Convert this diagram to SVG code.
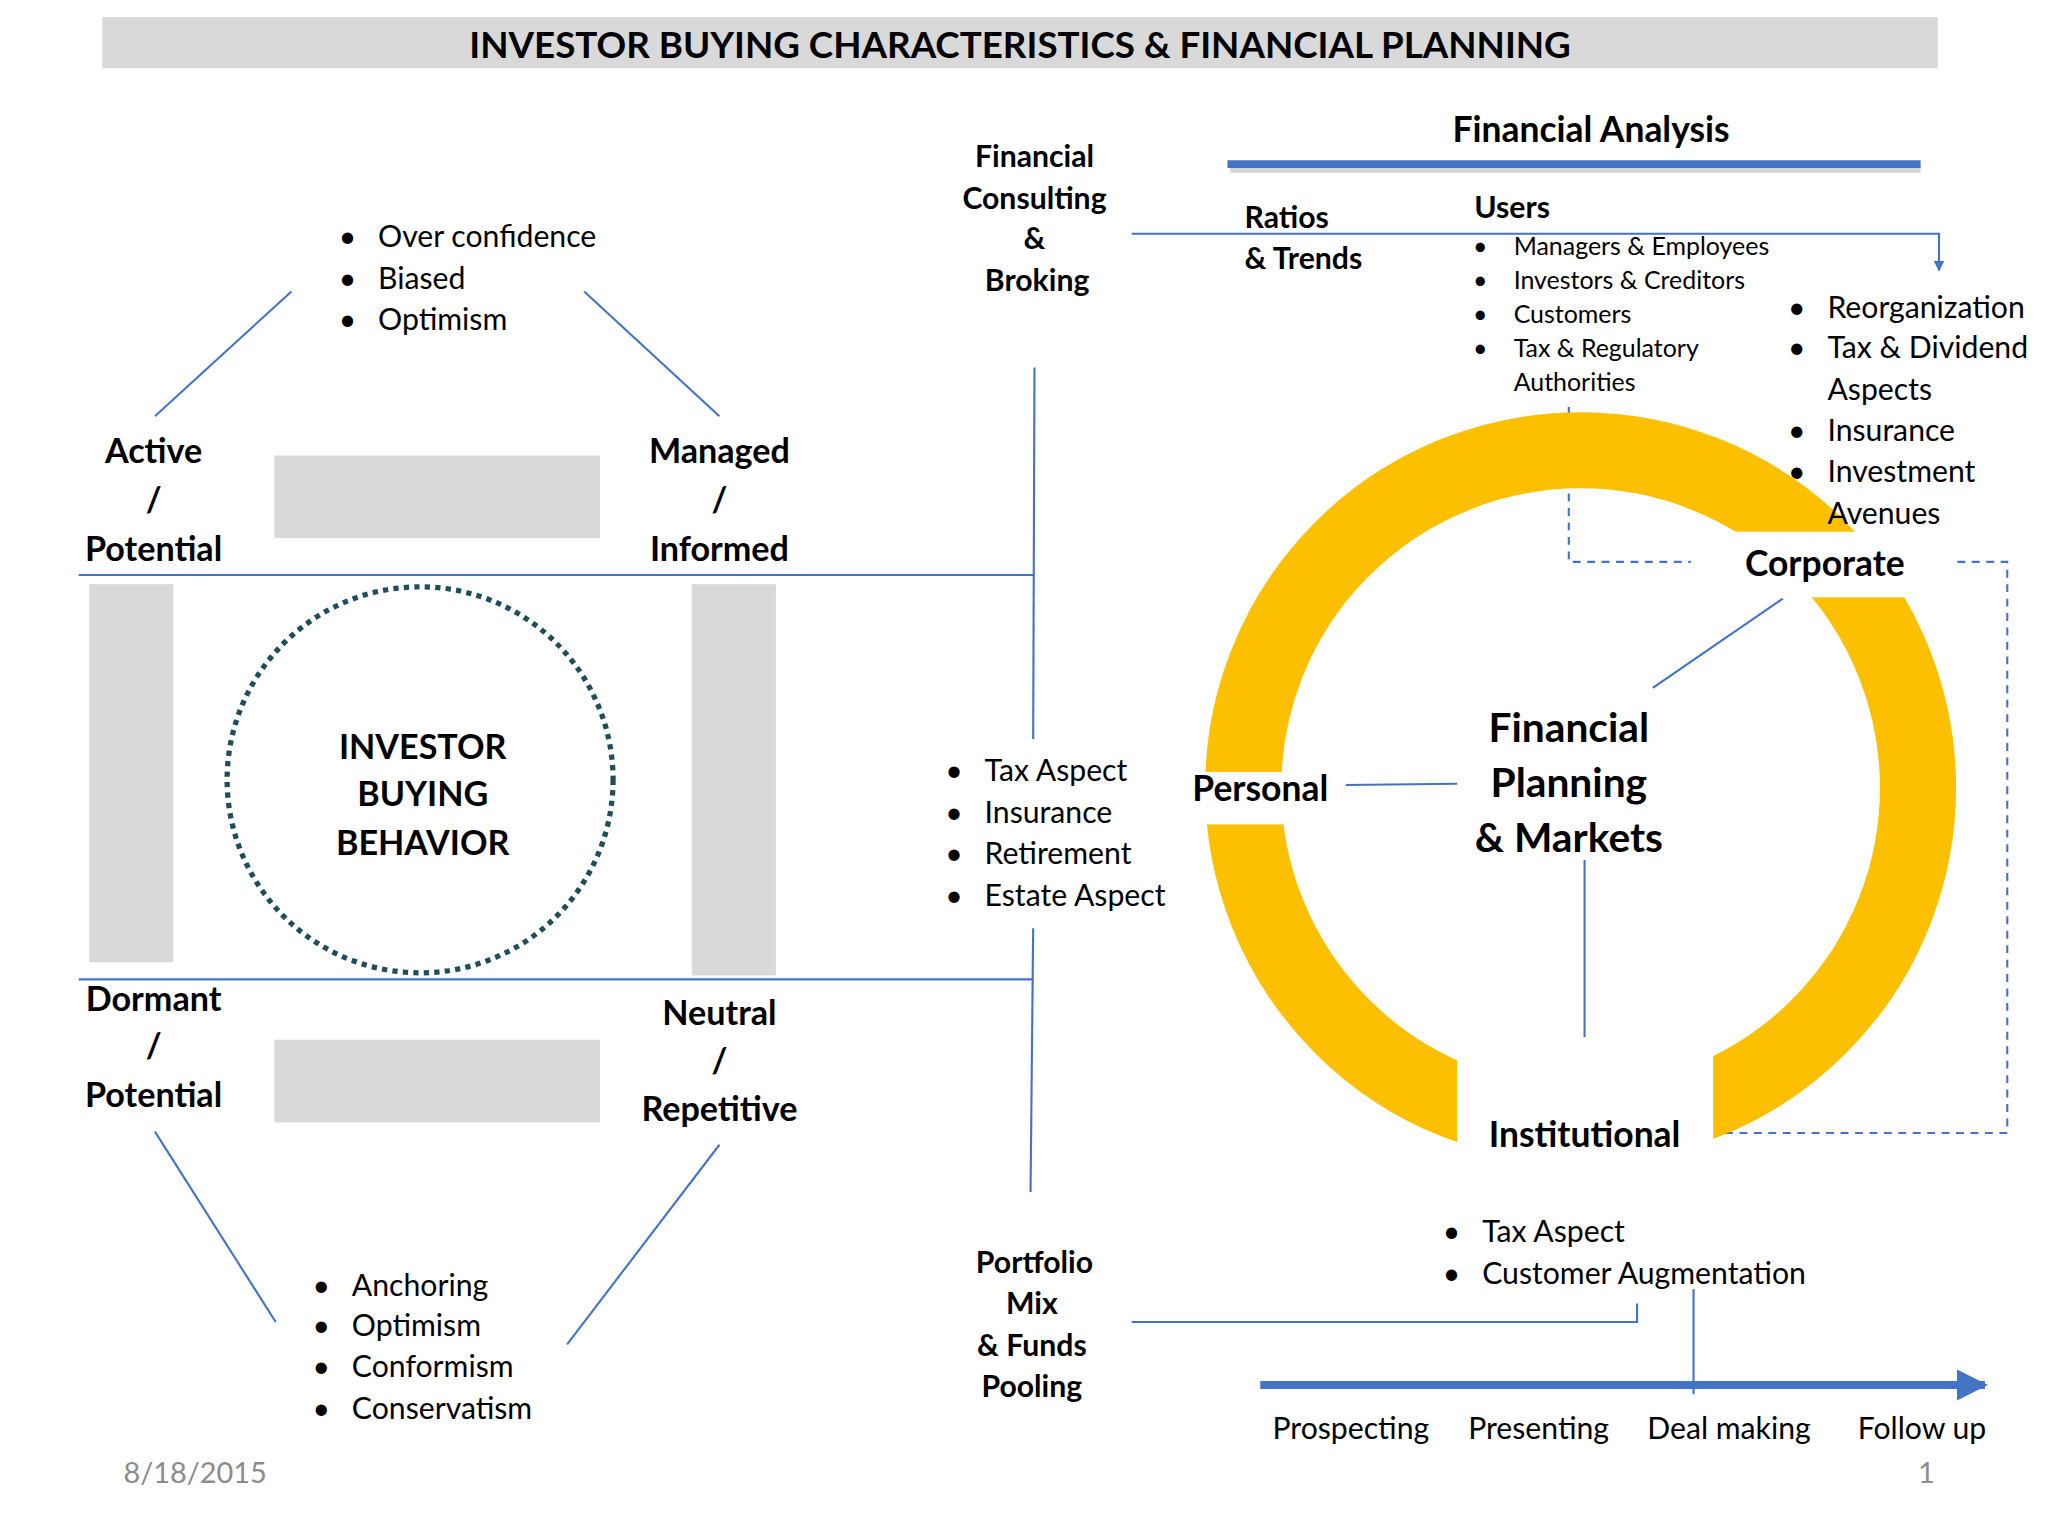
<svg xmlns="http://www.w3.org/2000/svg" width="2048" height="1536" viewBox="0 0 2048 1536">
<defs>
<style>
text{font-family:Lato,"Open Sans","Liberation Sans",sans-serif;fill:#000}
.b{font-weight:bold}
.c{text-anchor:middle}
.ln{stroke:#4472c4;stroke-width:1.6;fill:none}
.ds{stroke:#4472c4;stroke-width:1.6;fill:none;stroke-dasharray:6 5}
.g{fill:#d9d9d9}
</style>
<marker id="ah" viewBox="0 0 10 10" refX="9" refY="5" markerWidth="8" markerHeight="8" orient="auto" markerUnits="userSpaceOnUse"><path d="M0,0L10,5L0,10z" fill="#4472c4"/></marker>
<marker id="ah2" viewBox="0 0 10 10" refX="9" refY="5" markerWidth="4" markerHeight="4" orient="auto"><path d="M0,0L10,5L0,10z" fill="#4472c4"/></marker>
</defs>
<rect width="2048" height="1536" fill="#fff"/>
<g transform="scale(1.3128)">
<g id="title"><rect x="78" y="13" width="1398" height="39" class="g"/>
<text x="777" y="44" class="b c" font-size="28">INVESTOR BUYING CHARACTERISTICS &amp; FINANCIAL PLANNING</text></g>

<g id="connectors">
<line x1="222" y1="222" x2="118" y2="317" class="ln"/>
<line x1="445" y1="222" x2="548" y2="317" class="ln"/>
<line x1="60" y1="438" x2="787" y2="438" class="ln"/>
<line x1="60" y1="746" x2="787" y2="746" class="ln"/>
<line x1="118" y1="862" x2="210" y2="1007" class="ln"/>
<line x1="548" y1="872" x2="432" y2="1024" class="ln"/>
<line x1="788" y1="280" x2="787" y2="563" class="ln"/>
<line x1="787" y1="707" x2="785" y2="908" class="ln"/>
<polyline points="862,1007 1247,1007 1247,993" class="ln"/>
<line x1="1290" y1="982" x2="1290" y2="1062" class="ln"/>
<line x1="960" y1="1055" x2="1512" y2="1055" stroke="#4472c4" stroke-width="6" marker-end="url(#ah2)"/>
<polyline points="862,178 1477,178 1477,206" class="ln" marker-end="url(#ah)"/>
<line x1="937" y1="129" x2="1463" y2="129" stroke="#bbb" stroke-width="5" opacity="0.6"/>
<line x1="935" y1="125" x2="1463" y2="125" stroke="#4472c4" stroke-width="6"/>
<line x1="1025" y1="598" x2="1110" y2="597" class="ln"/>
<line x1="1358" y1="456" x2="1259" y2="524" class="ln"/>
<line x1="1207" y1="655" x2="1207" y2="810" class="ln"/>
<polyline points="1195,310 1195,428 1288,428" class="ds"/>
<polyline points="1491,428 1529,428 1529,863 1305,863" class="ds"/>
</g>

<g id="left">
<g font-size="23"><text x="258" y="188">•</text><text x="288" y="188">Over confidence</text>
<text x="258" y="220">•</text><text x="288" y="220">Biased</text>
<text x="258" y="251">•</text><text x="288" y="251">Optimism</text></g>
<g class="b c" font-size="26"><text x="117" y="353">Active</text><text x="117" y="390">/</text><text x="117" y="427">Potential</text>
<text x="548" y="353">Managed</text><text x="548" y="390">/</text><text x="548" y="427">Informed</text>
<text x="117" y="770">Dormant</text><text x="117" y="806">/</text><text x="117" y="843">Potential</text>
<text x="548" y="781">Neutral</text><text x="548" y="817">/</text><text x="548" y="854">Repetitive</text></g>
<rect x="209" y="347" width="248" height="63" class="g"/>
<rect x="209" y="792" width="248" height="63" class="g"/>
<rect x="68" y="445" width="64" height="288" class="g"/>
<rect x="527" y="445" width="64" height="298" class="g"/>
<circle cx="320" cy="594" r="147" fill="none" stroke="#1f4e5a" stroke-width="4" stroke-dasharray="4 4"/>
<g class="b c" font-size="26"><text x="322" y="578">INVESTOR</text><text x="322" y="614">BUYING</text><text x="322" y="651">BEHAVIOR</text></g>
<g font-size="23"><text x="238" y="987">•</text><text x="268" y="987">Anchoring</text>
<text x="238" y="1018">•</text><text x="268" y="1018">Optimism</text>
<text x="238" y="1049">•</text><text x="268" y="1049">Conformism</text>
<text x="238" y="1081">•</text><text x="268" y="1081">Conservatism</text></g>
</g>

<g id="middle">
<g class="b c" font-size="23"><text x="788" y="127">Financial</text><text x="788" y="159">Consulting</text><text x="788" y="190">&amp;</text><text x="790" y="222">Broking</text>
<text x="788" y="970">Portfolio</text><text x="786" y="1001">Mix</text><text x="786" y="1033">&amp; Funds</text><text x="786" y="1064">Pooling</text></g>
<g font-size="23"><text x="720" y="595">•</text><text x="750" y="595">Tax Aspect</text>
<text x="720" y="627">•</text><text x="750" y="627">Insurance</text>
<text x="720" y="658">•</text><text x="750" y="658">Retirement</text>
<text x="720" y="690">•</text><text x="750" y="690">Estate Aspect</text></g>
</g>

<g id="ring">
<circle cx="1204" cy="600" r="257" fill="none" stroke="#fdc000" stroke-width="58"/>
<rect x="895" y="588" width="130" height="40" fill="#fff"/>
<rect x="1110" y="790" width="195" height="110" fill="#fff"/>
<rect x="1290" y="405" width="200" height="50" fill="#fff"/>
</g>

<g id="right">
<text x="1212" y="108" class="b c" font-size="27">Financial Analysis</text>
<g class="b" font-size="23"><text x="948" y="174">Ratios</text><text x="948" y="205">&amp; Trends</text><text x="1123" y="166">Users</text></g>
<g font-size="19"><text x="1122" y="194">•</text><text x="1153" y="194">Managers &amp; Employees</text>
<text x="1122" y="220">•</text><text x="1153" y="220">Investors &amp; Creditors</text>
<text x="1122" y="246">•</text><text x="1153" y="246">Customers</text>
<text x="1122" y="272">•</text><text x="1153" y="272">Tax  &amp; Regulatory</text>
<text x="1153" y="298">Authorities</text></g>
<g font-size="23"><text x="1362" y="242">•</text><text x="1392" y="242">Reorganization</text>
<text x="1362" y="273">•</text><text x="1392" y="273">Tax  &amp; Dividend</text>
<text x="1392" y="305">Aspects</text>
<text x="1362" y="336">•</text><text x="1392" y="336">Insurance</text>
<text x="1362" y="367">•</text><text x="1392" y="367">Investment</text>
<text x="1392" y="399">Avenues</text></g>
<g class="b c" font-size="27"><text x="1390" y="439">Corporate</text><text x="960" y="610">Personal</text><text x="1207" y="874">Institutional</text></g>
<g class="b c" font-size="31"><text x="1195" y="565">Financial</text><text x="1195" y="607">Planning</text><text x="1195" y="649">&amp; Markets</text></g>
<g font-size="23"><text x="1099" y="946">•</text><text x="1129" y="946">Tax Aspect</text>
<text x="1099" y="978">•</text><text x="1129" y="978">Customer Augmentation</text></g>
<g font-size="23" class="c"><text x="1029" y="1096">Prospecting</text><text x="1172" y="1096">Presenting</text><text x="1317" y="1096">Deal making</text><text x="1464" y="1096">Follow up</text></g>
</g>
<g id="footer" font-size="22"><text x="94" y="1130" fill="#8c8c8c" style="fill:#8c8c8c">8/18/2015</text><text x="1461" y="1130" style="fill:#8c8c8c">1</text></g>
</g>
</svg>
